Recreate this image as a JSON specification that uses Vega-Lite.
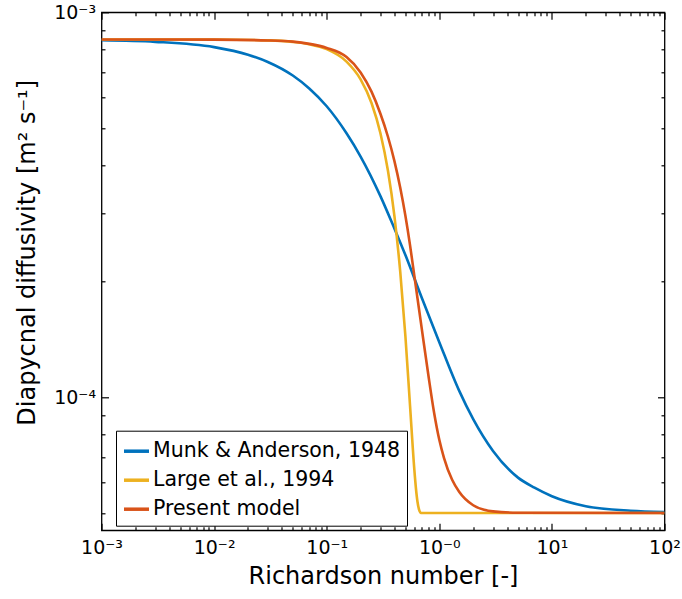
{
  "$schema": "https://vega.github.io/schema/vega-lite/v6.json",
  "width": 563,
  "height": 518,
  "autosize": {"type": "none"},
  "padding": {"left": 101.5, "top": 12.3, "right": 17.5, "bottom": 68.7},
  "config": {
    "font": "DejaVu Sans",
    "view": {"stroke": "black", "strokeWidth": 1.3},
    "axis": {"labelColor": "black", "titleColor": "black", "tickColor": "black", "domain": false, "grid": false, "tickWidth": 1.2}
  },
  "data": {"values": [
    {"m": "Munk & Anderson, 1948", "ri": 0.001, "k": 0.000846},
    {"m": "Munk & Anderson, 1948", "ri": 0.003, "k": 0.000838},
    {"m": "Munk & Anderson, 1948", "ri": 0.01, "k": 0.000812},
    {"m": "Munk & Anderson, 1948", "ri": 0.02, "k": 0.000776},
    {"m": "Munk & Anderson, 1948", "ri": 0.03, "k": 0.000743},
    {"m": "Munk & Anderson, 1948", "ri": 0.05, "k": 0.000685},
    {"m": "Munk & Anderson, 1948", "ri": 0.07, "k": 0.000634},
    {"m": "Munk & Anderson, 1948", "ri": 0.1, "k": 0.000570},
    {"m": "Munk & Anderson, 1948", "ri": 0.15, "k": 0.000485},
    {"m": "Munk & Anderson, 1948", "ri": 0.2, "k": 0.000422},
    {"m": "Munk & Anderson, 1948", "ri": 0.3, "k": 0.000333},
    {"m": "Munk & Anderson, 1948", "ri": 0.4, "k": 0.000274},
    {"m": "Munk & Anderson, 1948", "ri": 0.5, "k": 0.000234},
    {"m": "Munk & Anderson, 1948", "ri": 0.7, "k": 0.000181},
    {"m": "Munk & Anderson, 1948", "ri": 1, "k": 0.000139},
    {"m": "Munk & Anderson, 1948", "ri": 1.5, "k": 0.000104},
    {"m": "Munk & Anderson, 1948", "ri": 2, "k": 0.0000877},
    {"m": "Munk & Anderson, 1948", "ri": 3, "k": 0.0000725},
    {"m": "Munk & Anderson, 1948", "ri": 5, "k": 0.0000618},
    {"m": "Munk & Anderson, 1948", "ri": 7, "k": 0.0000582},
    {"m": "Munk & Anderson, 1948", "ri": 10, "k": 0.0000553},
    {"m": "Munk & Anderson, 1948", "ri": 20, "k": 0.0000521},
    {"m": "Munk & Anderson, 1948", "ri": 50, "k": 0.0000507},
    {"m": "Munk & Anderson, 1948", "ri": 100, "k": 0.0000503},
    {"m": "Large et al., 1994", "ri": 0.001, "k": 0.000850},
    {"m": "Large et al., 1994", "ri": 0.01, "k": 0.0008495},
    {"m": "Large et al., 1994", "ri": 0.03, "k": 0.0008456},
    {"m": "Large et al., 1994", "ri": 0.05, "k": 0.0008378},
    {"m": "Large et al., 1994", "ri": 0.07, "k": 0.0008262},
    {"m": "Large et al., 1994", "ri": 0.1, "k": 0.000802},
    {"m": "Large et al., 1994", "ri": 0.15, "k": 0.0007448},
    {"m": "Large et al., 1994", "ri": 0.2, "k": 0.0006696},
    {"m": "Large et al., 1994", "ri": 0.25, "k": 0.0005813},
    {"m": "Large et al., 1994", "ri": 0.3, "k": 0.0004852},
    {"m": "Large et al., 1994", "ri": 0.35, "k": 0.0003875},
    {"m": "Large et al., 1994", "ri": 0.4, "k": 0.0002944},
    {"m": "Large et al., 1994", "ri": 0.45, "k": 0.0002116},
    {"m": "Large et al., 1994", "ri": 0.5, "k": 0.000144},
    {"m": "Large et al., 1994", "ri": 0.55, "k": 0.0000948},
    {"m": "Large et al., 1994", "ri": 0.6, "k": 0.0000649},
    {"m": "Large et al., 1994", "ri": 0.62, "k": 0.0000580},
    {"m": "Large et al., 1994", "ri": 0.64, "k": 0.0000535},
    {"m": "Large et al., 1994", "ri": 0.66, "k": 0.0000511},
    {"m": "Large et al., 1994", "ri": 0.68, "k": 0.00005014},
    {"m": "Large et al., 1994", "ri": 0.7, "k": 0.00005},
    {"m": "Large et al., 1994", "ri": 100, "k": 0.00005},
    {"m": "Present model", "ri": 0.001, "k": 0.000850},
    {"m": "Present model", "ri": 0.01, "k": 0.000849},
    {"m": "Present model", "ri": 0.03, "k": 0.000845},
    {"m": "Present model", "ri": 0.05, "k": 0.000839},
    {"m": "Present model", "ri": 0.07, "k": 0.000828},
    {"m": "Present model", "ri": 0.1, "k": 0.000808},
    {"m": "Present model", "ri": 0.15, "k": 0.000765},
    {"m": "Present model", "ri": 0.2, "k": 0.000698},
    {"m": "Present model", "ri": 0.25, "k": 0.000622},
    {"m": "Present model", "ri": 0.3, "k": 0.000545},
    {"m": "Present model", "ri": 0.35, "k": 0.000475},
    {"m": "Present model", "ri": 0.4, "k": 0.000410},
    {"m": "Present model", "ri": 0.45, "k": 0.000350},
    {"m": "Present model", "ri": 0.5, "k": 0.000296},
    {"m": "Present model", "ri": 0.55, "k": 0.000248},
    {"m": "Present model", "ri": 0.6, "k": 0.000207},
    {"m": "Present model", "ri": 0.7, "k": 0.000150},
    {"m": "Present model", "ri": 0.8, "k": 0.000114},
    {"m": "Present model", "ri": 0.9, "k": 0.0000910},
    {"m": "Present model", "ri": 1.0, "k": 0.0000775},
    {"m": "Present model", "ri": 1.1, "k": 0.0000696},
    {"m": "Present model", "ri": 1.3, "k": 0.0000610},
    {"m": "Present model", "ri": 1.5, "k": 0.0000568},
    {"m": "Present model", "ri": 2, "k": 0.0000524},
    {"m": "Present model", "ri": 2.5, "k": 0.0000510},
    {"m": "Present model", "ri": 3, "k": 0.0000505},
    {"m": "Present model", "ri": 5, "k": 0.0000501},
    {"m": "Present model", "ri": 100, "k": 0.00005}
  ]},
  "resolve": {"axis": {"x": "independent", "y": "independent"}},
  "layer": [
    {
      "mark": {"type": "line", "strokeWidth": 2.6, "interpolate": "monotone", "clip": true},
      "encoding": {
        "x": {"field": "ri", "type": "quantitative",
          "scale": {"type": "log", "domain": [0.001, 100], "nice": false},
          "axis": {"orient": "bottom", "values": [0.001, 0.01, 0.1, 1, 10, 100], "ticks": false,
            "labelExpr": "['10⁻³','10⁻²','10⁻¹','10⁻⁰','10¹','10²'][round(log(datum.value)/LN10)+3]",
            "labelFontSize": 19, "labelPadding": 8, "labelFlush": false,
            "title": "Richardson number [-]", "titleFontSize": 24, "titleFontWeight": "normal", "titlePadding": 7}},
        "y": {"field": "k", "type": "quantitative",
          "scale": {"type": "log", "domain": [0.0000451, 0.001], "nice": false},
          "axis": {"orient": "left", "values": [0.0001, 0.001], "ticks": false,
            "labelExpr": "datum.value < 0.0005 ? '10⁻⁴' : '10⁻³'",
            "labelFontSize": 19, "labelPadding": 6, "labelFlush": false,
            "title": "Diapycnal diffusivity [m² s⁻¹]", "titleFontSize": 24, "titleFontWeight": "normal", "titlePadding": 14, "titleY": 240}},
        "color": {"field": "m", "type": "nominal",
          "scale": {"domain": ["Munk & Anderson, 1948", "Large et al., 1994", "Present model"], "range": ["#0072BD", "#EDB120", "#D95319"]},
          "legend": {"orient": "none", "legendX": 14.5, "legendY": 418.4, "title": null,
            "symbolType": "stroke", "symbolSize": 625, "symbolStrokeWidth": 3.5,
            "labelFontSize": 20.5, "labelColor": "black", "labelOffset": 2, "rowPadding": 4,
            "padding": 6, "strokeColor": "black", "fillColor": "white",
            "labelLimit": 400}}
      }
    },
    {
      "mark": {"type": "point", "opacity": 0},
      "encoding": {
        "x": {"field": "ri", "type": "quantitative", "scale": {"type": "log", "domain": [0.001, 100], "nice": false},
          "axis": {"orient": "bottom", "values": [0.001, 0.01, 0.1, 1, 10, 100], "labels": false, "tickSize": -7, "title": null}},
        "y": {"field": "k", "type": "quantitative", "scale": {"type": "log", "domain": [0.0000451, 0.001], "nice": false},
          "axis": {"orient": "left", "values": [0.0001, 0.001], "labels": false, "tickSize": -7, "title": null}}
      }
    },
    {
      "mark": {"type": "point", "opacity": 0},
      "encoding": {
        "x": {"field": "ri", "type": "quantitative", "scale": {"type": "log", "domain": [0.001, 100], "nice": false},
          "axis": {"orient": "bottom", "values": [0.002,0.003,0.004,0.005,0.006,0.007,0.008,0.009,0.02,0.03,0.04,0.05,0.06,0.07,0.08,0.09,0.2,0.3,0.4,0.5,0.6,0.7,0.8,0.9,2,3,4,5,6,7,8,9,20,30,40,50,60,70,80,90], "labels": false, "tickSize": -3.5, "title": null}},
        "y": {"field": "k", "type": "quantitative", "scale": {"type": "log", "domain": [0.0000451, 0.001], "nice": false},
          "axis": {"orient": "left", "values": [0.00005,0.00006,0.00007,0.00008,0.00009,0.0002,0.0003,0.0004,0.0005,0.0006,0.0007,0.0008,0.0009], "labels": false, "tickSize": -3.5, "title": null}}
      }
    },
    {
      "mark": {"type": "point", "opacity": 0},
      "encoding": {
        "x": {"field": "ri", "type": "quantitative", "scale": {"type": "log", "domain": [0.001, 100], "nice": false},
          "axis": {"orient": "top", "values": [0.001, 0.01, 0.1, 1, 10, 100], "labels": false, "tickSize": -7, "title": null}},
        "y": {"field": "k", "type": "quantitative", "scale": {"type": "log", "domain": [0.0000451, 0.001], "nice": false},
          "axis": {"orient": "right", "values": [0.0001, 0.001], "labels": false, "tickSize": -7, "title": null}}
      }
    },
    {
      "mark": {"type": "point", "opacity": 0},
      "encoding": {
        "x": {"field": "ri", "type": "quantitative", "scale": {"type": "log", "domain": [0.001, 100], "nice": false},
          "axis": {"orient": "top", "values": [0.002,0.003,0.004,0.005,0.006,0.007,0.008,0.009,0.02,0.03,0.04,0.05,0.06,0.07,0.08,0.09,0.2,0.3,0.4,0.5,0.6,0.7,0.8,0.9,2,3,4,5,6,7,8,9,20,30,40,50,60,70,80,90], "labels": false, "tickSize": -3.5, "title": null}},
        "y": {"field": "k", "type": "quantitative", "scale": {"type": "log", "domain": [0.0000451, 0.001], "nice": false},
          "axis": {"orient": "right", "values": [0.00005,0.00006,0.00007,0.00008,0.00009,0.0002,0.0003,0.0004,0.0005,0.0006,0.0007,0.0008,0.0009], "labels": false, "tickSize": -3.5, "title": null}}
      }
    }
  ]
}
